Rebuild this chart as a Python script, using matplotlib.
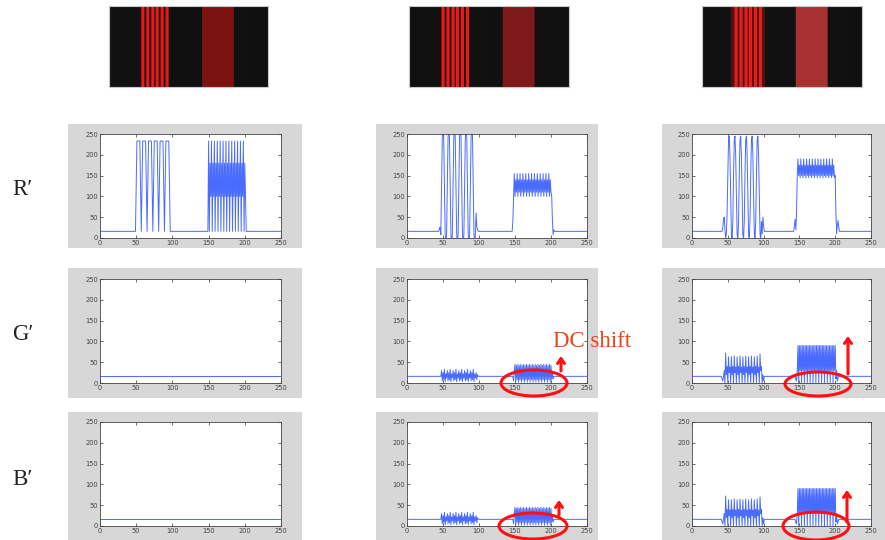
import numpy as np
import matplotlib
matplotlib.use('Agg')
import matplotlib.pyplot as plt
from matplotlib.patches import Ellipse, Rectangle

# --- signal data: (sample values, repeat count), one row of 256 pixels ---
r1_segments = [([16], 50),
               ([125, 233, 233, 233, 233, 233, 125, 16], 6),
               ([16], 52),
               ([233, 16, 180, 100], 13),
               ([16], 54)]
r2_segments = [([16], 45),
               ([22, 26, 8], 1),
               ([125, 240, 275, 240, 125, 10, -15, 10], 6),
               ([60, 26, 20], 1),
               ([16], 48),
               ([40, 100], 1),
               ([155, 100, 140, 110], 13),
               ([100, 40, 8, 20], 1),
               ([16], 51)]
r3_segments = [([16], 43),
               ([25, 45, 50, 20, 0, 10, 60], 1),
               ([150, 235, 245, 200, 100, 10, -5, 40], 6),
               ([10, 50, 30, 16], 1),
               ([16], 41),
               ([30, 45, 20, 60, 150], 1),
               ([190, 150, 175, 145], 13),
               ([150, 60, 10, 30, 42, 25], 1),
               ([16], 50)]
g1_segments = [([16], 256)]
g2_segments = [([16], 48),
               ([30, 5, 25, 8, 33, 3, 22, 12], 6),
               ([25, 8, 20, 16], 1),
               ([16], 48),
               ([5, 30], 1),
               ([45, 2, 42, 8], 13),
               ([25, 10], 1),
               ([16], 52)]
g3_segments = [([16], 42),
               ([10, 5, 16, 30], 1),
               ([0, 72, 20, 40, 0, 63, 25, 38], 1),
               ([0, 63, 20, 40, 0, 65, 25, 38], 5),
               ([0, 70, 30, 40, 0, 20, 5, 16], 1),
               ([16], 43),
               ([8, 5, 30], 1),
               ([90, 0, 90, 30], 13),
               ([90, 10, 30, 5, 12], 1),
               ([16], 51)]
b1_segments = g1_segments
b2_segments = g2_segments
b3_segments = g3_segments

# --- stripe images on top (pixel columns of the 256-wide test pattern) ---
stripe_starts = [52, 60, 68, 75, 83, 91]
stripe_width = 5
band_range = (150, 201)
halo_range = (46, 101)
img_bg = (17, 17, 17)
img_stripe = [(236, 24, 24), (236, 26, 26), (232, 30, 30)]
img_band = [(124, 20, 20), (126, 26, 26), (168, 50, 50)]
img_halo = [(17, 17, 17), (30, 12, 12), (80, 18, 18)]

row_labels = ["R\u2032", "G\u2032", "B\u2032"]
ticks = [0, 50, 100, 150, 200, 250]


def build(segments):
    return np.concatenate([np.tile(np.array(v, float), n) for v, n in segments])


def box_average(vals, n_out):
    # average the 256 samples into n_out screen pixels (like a shrunk image)
    cs = np.concatenate([[0], np.cumsum(vals)])
    edges = np.linspace(0, len(vals), n_out + 1)
    c = np.interp(edges, np.arange(len(vals) + 1), cs)
    return np.diff(c) / np.diff(edges)


channels = [[build(r1_segments), build(r2_segments), build(r3_segments)],
            [build(g1_segments), build(g2_segments), build(g3_segments)],
            [build(b1_segments), build(b2_segments), build(b3_segments)]]

W, H = 885, 540
fig = plt.figure(figsize=(W / 100, H / 100), dpi=100)


def rect(x0, y0, x1, y1):
    return [x0 / W, 1 - y1 / H, (x1 - x0) / W, (y1 - y0) / H]


# background layer for the grey window boxes
bg = fig.add_axes([0, 0, 1, 1], zorder=0)
bg.set_xlim(0, W)
bg.set_ylim(H, 0)
bg.axis('off')

col_x = [(100, 281), (407, 587), (692, 871)]
row_y = [(134, 238), (279, 383), (422, 526)]
col_gx = [(68, 302), (376, 598), (662, 885)]
row_gy = [(124, 248), (268, 398), (412, 540)]
img_x = [(109, 268), (409, 569), (702, 862)]

for j in range(3):
    # stripe image
    row = np.tile(np.array(img_bg, float), (256, 1))
    row[halo_range[0]:halo_range[1]] = img_halo[j]
    for s0 in stripe_starts:
        row[s0:s0 + stripe_width] = img_stripe[j]
    row[band_range[0]:band_range[1]] = img_band[j]
    n_px = img_x[j][1] - img_x[j][0]
    rgb = np.stack([box_average(row[:, k], n_px) for k in range(3)], axis=-1)
    iax = fig.add_axes(rect(img_x[j][0], 6, img_x[j][1], 87), zorder=1)
    iax.imshow(rgb[None, :, :] / 255.0, aspect='auto', interpolation='nearest')
    iax.set_xticks([])
    iax.set_yticks([])
    for s in iax.spines.values():
        s.set_color('#c8c8c8')
        s.set_linewidth(0.8)

    for i in range(3):
        gx0, gx1 = col_gx[j]
        gy0, gy1 = row_gy[i]
        bg.add_patch(Rectangle((gx0, gy0), gx1 - gx0, gy1 - gy0,
                               facecolor='#d7d7d7', edgecolor='none'))
        ax = fig.add_axes(rect(col_x[j][0], row_y[i][0], col_x[j][1], row_y[i][1]), zorder=1)
        ax.plot(np.arange(256), channels[i][j], color='#4a6bff', lw=0.7)
        ax.set_xlim(0, 250)
        ax.set_ylim(0, 250)
        ax.set_xticks(ticks)
        ax.set_yticks(ticks)
        ax.tick_params(direction='in', length=2, width=0.5, top=True, right=True,
                       labelsize=4.8, labelcolor='#444444', color='#333333', pad=1.5)
        for s in ax.spines.values():
            s.set_color('#444444')
            s.set_linewidth(0.6)

# overlay for labels and annotations
ov = fig.add_axes([0, 0, 1, 1], zorder=5)
ov.set_xlim(0, W)
ov.set_ylim(H, 0)
ov.axis('off')

for i, lab in enumerate(row_labels):
    ov.text(12, [195, 340, 485][i], lab, fontsize=16.5, va='baseline', ha='left',
            family=['Liberation Serif', 'DejaVu Serif'], color='#222222')

ov.text(553, 347, "DC shift", fontsize=16.5, va='baseline', ha='left',
        family=['Liberation Serif', 'DejaVu Serif'], color='#e8461c')

for cx, cy, w, h in [(534, 383, 66, 26), (533, 526, 68, 26),
                     (818, 384, 66, 24), (816, 526, 66, 28)]:
    ov.add_patch(Ellipse((cx, cy), w, h, fill=False, edgecolor='#ff1010', lw=2.2))

for x, y0, y1 in [(561, 371, 356), (559, 515, 500), (848, 374, 336), (847, 522, 490)]:
    ov.annotate('', xy=(x, y1), xytext=(x, y0),
                arrowprops=dict(arrowstyle='->,head_length=0.35,head_width=0.25',
                                color='#ff1010', lw=2.2, shrinkA=0, shrinkB=0))

fig.savefig('out.png', dpi=100, facecolor='white')
